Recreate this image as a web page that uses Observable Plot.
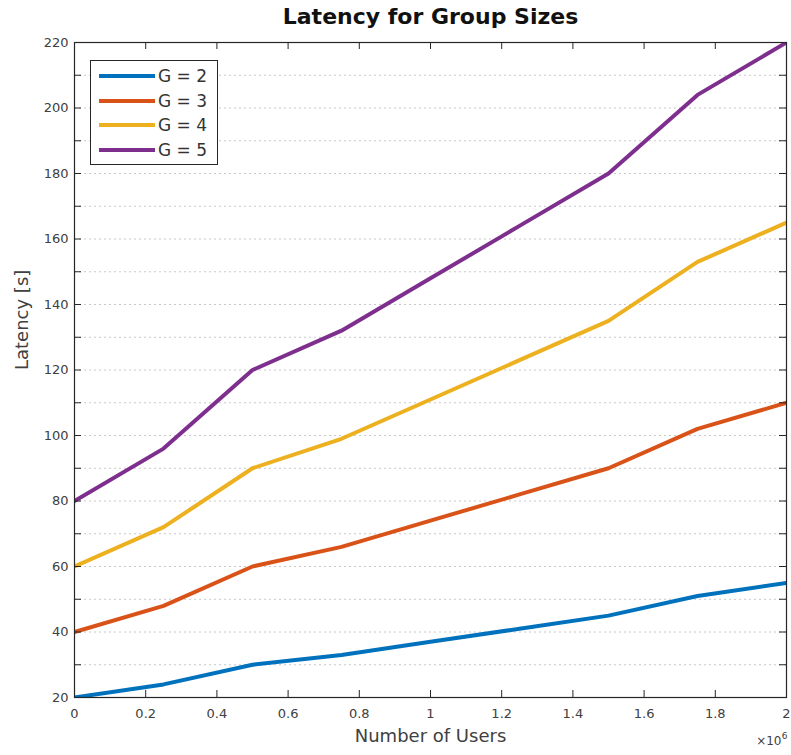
<!DOCTYPE html>
<html>
<head>
<meta charset="utf-8">
<script src="https://cdn.jsdelivr.net/npm/d3@7"></script>
<script src="https://cdn.jsdelivr.net/npm/@observablehq/plot@0.6"></script>
<style>
  body { margin: 0; background: #fff; font-family: "DejaVu Sans", sans-serif; }
  #wrap { position: relative; width: 791px; height: 755px; }
  #title { height: 30px; padding-left: 74px; width: 713px; text-align: center;
           font: bold 22px "DejaVu Sans", sans-serif; line-height: 34px; color: #111; }
  #legend { position: absolute; left: 90px; top: 60px; width: 126px; height: 103px;
            border: 1.3px solid #262626; background: #fff; }
  .row { position: absolute; left: 8px; height: 20px; display: flex; align-items: center; }
  .sw { width: 56px; height: 4px; margin-right: 3px; }
  .lab { font: 17px "DejaVu Sans", sans-serif; color: #333; }
</style>
</head>
<body>
<div id="wrap">
  <div id="title">Latency for Group Sizes</div>
  <div id="chart"></div>
  <div id="legend"></div>
</div>
<script>
const users = [0, 0.25, 0.5, 0.75, 1.0, 1.25, 1.5, 1.75, 2.0]; // ×10^6
const g2 = [20, 24, 30, 33, 37, 41, 45, 51, 55];
const g3 = [40, 48, 60, 66, 74, 82, 90, 102, 110];
const g4 = [60, 72, 90, 99, 111, 123, 135, 153, 165];
const g5 = [80, 96, 120, 132, 148, 164, 180, 204, 220];
const seriesNames = ["G = 2", "G = 3", "G = 4", "G = 5"];
const seriesColors = ["#0072BD", "#D95319", "#EDB120", "#7E2F8E"];
const xTicks = [0, 0.2, 0.4, 0.6, 0.8, 1, 1.2, 1.4, 1.6, 1.8, 2];
const yTicks = [20, 40, 60, 80, 100, 120, 140, 160, 180, 200, 220];
const yMinor = [30, 50, 70, 90, 110, 130, 150, 170, 190, 210];
const yGrid = [30, 40, 50, 60, 70, 80, 90, 100, 110, 120, 130, 140, 150, 160, 170, 180, 190, 200, 210];

const allSeries = [g2, g3, g4, g5];
const rows = [];
allSeries.forEach((vals, si) => vals.forEach((v, i) => rows.push({x: users[i], y: v, s: seriesNames[si]})));

const W = 791, H = 725;
const mL = 74, mR = 5, mT = 12, mB = 58;
const pw = W - mL - mR, ph = H - mT - mB;
const tk = 7;
const allY = yTicks.concat(yMinor);

const chart = Plot.plot({
  width: W, height: H,
  marginLeft: mL, marginRight: mR, marginTop: mT, marginBottom: mB,
  style: { fontFamily: "DejaVu Sans, sans-serif", background: "#fff" },
  x: { domain: [0, 2] },
  y: { domain: [20, 220] },
  color: { domain: seriesNames, range: seriesColors },
  marks: [
    Plot.ruleY(yGrid, { stroke: "#c8c8c8", strokeDasharray: "2,3", strokeWidth: 1 }),
    Plot.line(rows, { x: "x", y: "y", z: "s", stroke: "s", strokeWidth: 4, clip: true, strokeLinejoin: "round" }),
    Plot.frame({ stroke: "#262626", strokeWidth: 1.2 }),
    Plot.ruleX(xTicks, { x: d => d, insetTop: ph - tk, stroke: "#262626" }),
    Plot.ruleX(xTicks, { x: d => d, insetBottom: ph - tk, stroke: "#262626" }),
    Plot.ruleY(allY, { y: d => d, insetRight: pw - tk, stroke: "#262626" }),
    Plot.ruleY(allY, { y: d => d, insetLeft: pw - tk, stroke: "#262626" }),
    Plot.axisX(xTicks, { tickSize: 0, tickPadding: 11, fontSize: 13, color: "#404040", label: null, tickFormat: d => String(d) }),
    Plot.axisY(yTicks, { tickSize: 0, tickPadding: 6, fontSize: 13, color: "#404040", label: null }),
    Plot.text(["Number of Users"], { frameAnchor: "bottom", dy: 44, fontSize: 18, fill: "#404040" }),
    Plot.text(["×10"], { frameAnchor: "bottom-right", dy: 47, dx: -5, fontSize: 12, fill: "#404040", textAnchor: "end" }),
    Plot.text(["6"], { frameAnchor: "bottom-right", dy: 41, dx: 1, fontSize: 9, fill: "#404040", textAnchor: "end" }),
    Plot.text(["Latency [s]"], { frameAnchor: "left", dx: -52, rotate: -90, fontSize: 18, fill: "#404040" })
  ]
});
document.getElementById("chart").appendChild(chart);

const leg = document.getElementById("legend");
seriesNames.forEach((n, i) => {
  const r = document.createElement("div");
  r.className = "row";
  r.style.top = (5 + i * 24.7) + "px";
  r.innerHTML = `<div class="sw" style="background:${seriesColors[i]}"></div><span class="lab">${n}</span>`;
  leg.appendChild(r);
});
</script>
</body>
</html>
